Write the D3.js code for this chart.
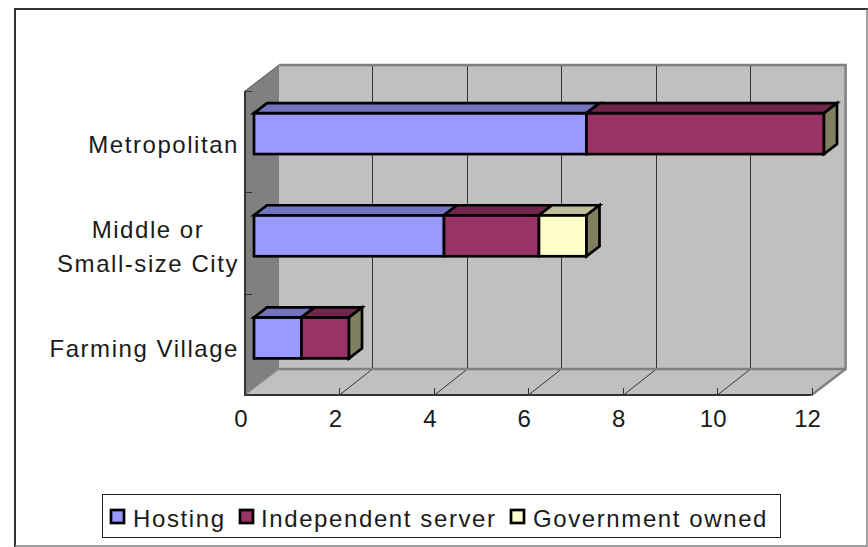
<!DOCTYPE html>
<html><head><meta charset="utf-8">
<script src="https://cdnjs.cloudflare.com/ajax/libs/d3/7.8.5/d3.min.js"></script>
<style>html,body{margin:0;padding:0;background:#fff}svg{display:block}text{font-family:"Liberation Sans",sans-serif;fill:#1a1a1a}</style>
</head><body><svg id="c" width="868" height="547"></svg>
<script>
const categories = ["Metropolitan", "Middle or|Small-size City", "Farming Village"];
const seriesNames = ["Hosting", "Independent server", "Government owned"];
const hosting = [7, 4, 1];
const independent = [5, 2, 1];
const government = [0, 1, 0];
const tickValues = [0, 2, 4, 6, 8, 10, 12];
const colors = ["#9999ff", "#993366", "#ffffcc"];
const topColors = ["#7373bf", "#73264c", "#bfbf99"];
const sideColor = "#808060";

const svg = d3.select("#c");
const x = d3.scaleLinear().domain([0, 12]).range([245, 811.6]);
const barX = d3.scaleLinear().domain([0, 12]).range([254, 824]);
const y = d3.scaleBand().domain(categories).range([91, 395]);
const barY = d3.scaleBand().domain(categories).range([82.5, 389]);
const depth = [34, -26], barDepth = [13, -10];
const barH = 41;
const pts = a => a.map(p => p.join(",")).join(" ");

// outer frame
svg.append("path").attr("fill","none").attr("stroke","#333").attr("stroke-width",2).attr("d","M15,547V9H868");
svg.append("path").attr("fill","none").attr("stroke","#808080").attr("stroke-width",1.5).attr("d","M15,546H867V9");

const x0 = x(0), x1 = x(12), yT = y.range()[0], yB = y.range()[1], dx = depth[0], dy = depth[1];
// walls
svg.append("polygon").attr("points",pts([[x0+dx,yT+dy],[x1+dx,yT+dy],[x1+dx,yB+dy],[x0+dx,yB+dy]])).attr("fill","#c0c0c0");
svg.append("polygon").attr("points",pts([[x0,yT],[x0+dx,yT+dy],[x0+dx,yB+dy],[x0,yB]])).attr("fill","#808080");
svg.append("polygon").attr("points",pts([[x0,yB],[x0+dx,yB+dy],[x1+dx,yB+dy],[x1,yB]])).attr("fill","#c0c0c0");
// grid
tickValues.slice(1,-1).forEach(t=>{
  const gx = Math.round(x(t)+dx)-.5;
  svg.append("path").attr("fill","none").attr("stroke","#333").attr("stroke-width",1)
   .attr("d",`M${Math.round(x(t))+.5},${yB}L${gx},${yB+dy}V${yT+dy}`);
});
// wall edges
svg.append("path").attr("fill","none").attr("stroke","#808080").attr("stroke-width",2.5)
  .attr("d",`M${x0+dx},${yT+dy}H${x1+dx}V${yB+dy}H${x0+dx}`);
svg.append("path").attr("fill","none").attr("stroke","#808080").attr("stroke-width",2.5)
  .attr("d",`M${x1},${yB}L${x1+dx},${yB+dy}`);
svg.append("path").attr("fill","none").attr("stroke","#555").attr("stroke-width",1)
  .attr("d",`M${x0},${yT}L${x0+dx},${yT+dy}`);
svg.append("path").attr("fill","none").attr("stroke","#808080").attr("stroke-width",1)
  .attr("d",`M${x0},${yB}L${x0+dx},${yB+dy}`);
// axes
svg.append("path").attr("fill","none").attr("stroke","#333").attr("stroke-width",2)
  .attr("d",`M${x0},${yT}V${yB}H${x1}`);
const catTicks = [yT, ...categories.map(c=>y(c)+y.bandwidth())];
svg.selectAll(".ct").data(catTicks).join("line").attr("x1",x0).attr("x2",x0+7).attr("y1",d=>Math.round(d)+.5).attr("y2",d=>Math.round(d)+.5).attr("stroke","#333");
svg.selectAll(".vt").data(tickValues).join("line").attr("x1",d=>Math.round(x(d))+.5).attr("x2",d=>Math.round(x(d))+.5).attr("y1",yB).attr("y2",yB-7).attr("stroke","#333");

// bars
const rows = categories.map((c,i)=>({c, vals:[hosting[i],independent[i],government[i]]}));
const g = svg.append("g").attr("stroke","#000").attr("stroke-width",2.7).attr("stroke-linejoin","miter");
rows.slice().reverse().forEach(r=>{
  const top = barY(r.c)+barY.bandwidth()/2-barH/2, bot = top+barH;
  let acc=0, last=null;
  r.vals.forEach((v,k)=>{
    if(!v) return;
    const a=barX(acc), b=barX(acc+v);
    g.append("rect").attr("x",a).attr("y",top).attr("width",b-a).attr("height",barH).attr("fill",colors[k]);
    g.append("polygon").attr("points",pts([[a,top],[a+barDepth[0],top+barDepth[1]],[b+barDepth[0],top+barDepth[1]],[b,top]])).attr("fill",topColors[k]);
    acc+=v; last=b;
  });
  g.append("polygon").attr("points",pts([[last,top],[last+barDepth[0],top+barDepth[1]],[last+barDepth[0],bot+barDepth[1]],[last,bot]])).attr("fill",sideColor);
});

// labels
svg.selectAll(".vl").data(tickValues).join("text").attr("x",d=>x(d)-4).attr("y",427).attr("text-anchor","middle").attr("font-size",24).text(d=>d);
const anchorR = 239, fs = 24, ls = 1.55;
rows.forEach(r=>{
  const cy = barY(r.c)+barY.bandwidth()/2;
  const lines = r.c.split("|");
  if(lines.length===1){
    svg.append("text").attr("x",anchorR).attr("y",cy+19).attr("text-anchor","end").attr("font-size",fs).attr("letter-spacing",ls).text(lines[0]);
  } else {
    svg.append("text").attr("x",148).attr("y",cy+2).attr("text-anchor","middle").attr("font-size",fs).attr("letter-spacing",ls).text(lines[0]);
    svg.append("text").attr("x",anchorR).attr("y",cy+36).attr("text-anchor","end").attr("font-size",fs).attr("letter-spacing",ls).text(lines[1]);
  }
});
// legend
svg.append("rect").attr("x",102.5).attr("y",494.5).attr("width",678).attr("height",43).attr("fill","#fff").attr("stroke","#222");
const swatchX=[111,240,511], textX=[133,261,533];
seriesNames.forEach((n,i)=>{
  svg.append("rect").attr("x",swatchX[i]).attr("y",510).attr("width",13).attr("height",13).attr("fill",colors[i]).attr("stroke","#000").attr("stroke-width",2.7);
  svg.append("text").attr("x",textX[i]).attr("y",527).attr("font-size",24).attr("letter-spacing",1.6).text(n);
});
</script></body></html>
